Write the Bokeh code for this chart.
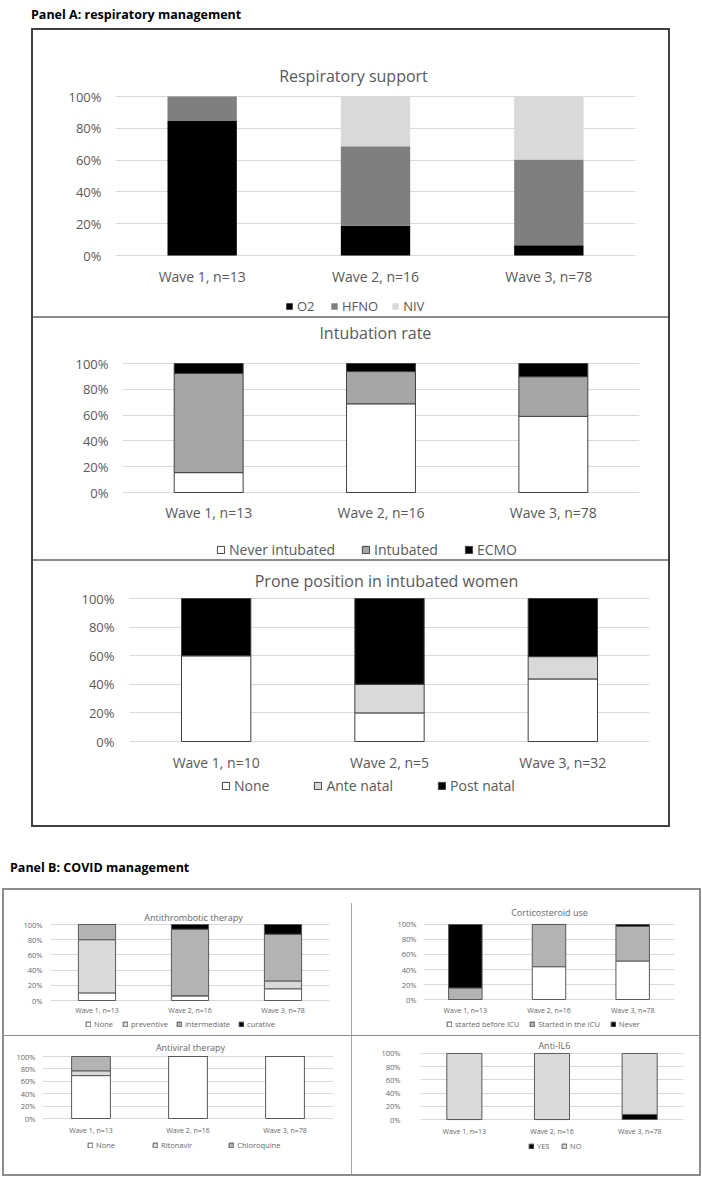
from bokeh.plotting import figure
from bokeh.models import (FactorRange, Range1d, FixedTicker, Legend, LegendItem,
                          Div, Spacer, ColumnDataSource, NumeralTickFormatter, Title)
from bokeh.layouts import column, row
from bokeh.embed import file_html
from bokeh.resources import INLINE

# ---------------- data ----------------
waves = ["Wave 1, n=13", "Wave 2, n=16", "Wave 3, n=78"]
waves_prone = ["Wave 1, n=10", "Wave 2, n=5", "Wave 3, n=32"]
pct_ticks = [0, 0.2, 0.4, 0.6, 0.8, 1.0]

resp_labels = ["O2", "HFNO", "NIV"]
resp_o2 = [84.6, 18.75, 6.4]
resp_hfno = [15.4, 50.0, 53.9]
resp_niv = [0.0, 31.25, 39.7]

intub_labels = ["Never intubated", "Intubated", "ECMO"]
intub_never = [15.4, 68.75, 59.0]
intub_yes = [76.9, 25.0, 30.8]
intub_ecmo = [7.7, 6.25, 10.2]

prone_labels = ["None", "Ante natal", "Post natal"]
prone_none = [60.0, 20.0, 43.75]
prone_ante = [0.0, 20.0, 15.6]
prone_post = [40.0, 60.0, 40.65]

athr_labels = ["None", "preventive", "intermediate", "curative"]
athr_none = [10.0, 6.25, 15.4]
athr_prev = [70.0, 0.0, 10.3]
athr_inter = [20.0, 87.5, 61.5]
athr_cur = [0.0, 6.25, 12.8]

cort_labels = ["started before ICU", "Started in the ICU", "Never"]
cort_before = [0.0, 43.75, 51.3]
cort_icu = [15.4, 56.25, 46.1]
cort_never = [84.6, 0.0, 2.6]

antiv_labels = ["None", "Ritonavir", "Chloroquine"]
antiv_none = [69.2, 100.0, 100.0]
antiv_rito = [7.7, 0.0, 0.0]
antiv_chloro = [23.1, 0.0, 0.0]

il6_labels = ["YES", "NO"]
il6_yes = [0.0, 0.0, 7.7]
il6_no = [100.0, 100.0, 92.3]

# ---------------- helpers ----------------
FONT = "Open Sans"
CW = {' ': 0.26, 'a': 0.556, 'b': 0.613, 'c': 0.476, 'd': 0.613, 'e': 0.561, 'g': 0.548,
      'h': 0.614, 'i': 0.253, 'l': 0.253, 'm': 0.93, 'n': 0.614, 'o': 0.604, 'p': 0.613,
      'r': 0.408, 's': 0.477, 't': 0.353, 'u': 0.614, 'v': 0.5, 'w': 0.778, 'y': 0.502,
      'A': 0.633, 'C': 0.631, 'I': 0.3, 'L': 0.525, 'P': 0.59, 'R': 0.619, '-': 0.322, '6': 0.572}
LH = 1.36  # font-metric height factor


def text_w(s, fs):
    return sum(CW.get(c, 0.55) for c in s) * fs


def chart(title, factors, series, labels, fills, outline, box, band_top, frame, title_c,
          fs_title, cat_cy, fs_cat, ylab_right, fs_y, leg_left, leg_cy, fs_leg, glyph,
          spacing, leg_standoff, tcolor):
    x0, y0, W, Htot = box
    H = band_top - y0
    fl, fr, ftop, fbot = frame
    D = fbot - ftop
    L = fl - x0
    FW = fr - fl
    T = ftop - 1 - y0
    FH = D + 2
    B = H - T - FH
    R = W - L - FW
    pad = 1.0 / D
    p = figure(width=W, height=H, x_range=FactorRange(*factors),
               y_range=Range1d(-pad, 1 + pad), output_backend="svg",
               toolbar_location=None, min_border_left=L, min_border_right=R,
               min_border_top=T, min_border_bottom=B, margin=0)
    p.frame_align = False
    p.outline_line_color = None
    p.background_fill_color = "white"
    p.border_fill_color = "white"

    data = {"x": list(factors)}
    keys = []
    for i, s in enumerate(series):
        k = "s%d" % i
        data[k] = [v / 100.0 for v in s]
        keys.append(k)
    src = ColumnDataSource(data)
    lw = 1 if outline else 0
    p.vbar_stack(keys, x="x", width=0.4, source=src, fill_color=fills,
                 line_color=outline, line_width=lw)

    # grid
    p.xgrid.visible = False
    p.ygrid.ticker = FixedTicker(ticks=pct_ticks)
    p.ygrid.grid_line_color = "#d9d9d9"
    p.ygrid.grid_line_width = 1

    # y axis
    ya = p.yaxis[0]
    ya.ticker = FixedTicker(ticks=pct_ticks)
    ya.formatter = NumeralTickFormatter(format="0%")
    ya.axis_line_color = None
    ya.major_tick_line_color = None
    ya.minor_tick_line_color = None
    ya.major_tick_out = 0
    ya.major_tick_in = 0
    ya.major_label_standoff = int(round(fl - ylab_right))
    ya.major_label_text_font = FONT
    ya.major_label_text_font_size = "%gpx" % fs_y
    ya.major_label_text_color = tcolor

    # x axis
    xa = p.xaxis[0]
    xa.axis_line_color = None
    xa.major_tick_line_color = None
    xa.minor_tick_line_color = None
    xa.major_tick_out = 0
    xa.major_tick_in = 0
    x_standoff = max(0, int(round(cat_cy - 0.72 * fs_cat - (fbot + 1))))
    xa.major_label_standoff = x_standoff
    xa.major_label_text_font = FONT
    xa.major_label_text_font_size = "%gpx" % fs_cat
    xa.major_label_text_color = tcolor

    # title (stacked against the frame top)
    tcx, tcy = title_c
    text_h = LH * fs_title
    dist = (ftop - 1) - (tcy + 0.64 * fs_title)
    p.title.text = title
    p.title.align = "left"
    p.title.offset = tcx - text_w(title, fs_title) / 2 - fl
    p.title.text_font = FONT
    p.title.text_font_size = "%gpx" % fs_title
    p.title.text_font_style = "normal"
    p.title.text_color = tcolor
    if 2 * dist + text_h <= T + 3:
        p.title.standoff = max(0, int(round(min(2 * dist, T - text_h))))
    else:
        sp_stand = max(0, int(round(T - 1.2 * LH * fs_title - 1.5)))
        p.add_layout(Title(text=" ", text_font_size="1px", standoff=sp_stand,
                           text_color="white"), "above")
        p.title.standoff = 0

    # legend strip (own small canvas under the chart)
    HB = y0 + Htot - band_top
    q = figure(width=W, height=HB, x_range=Range1d(0, 1), y_range=Range1d(0, 1),
               output_backend="svg", toolbar_location=None, min_border=0, margin=0,
               x_axis_type=None, y_axis_type=None, title_location=None)
    q.frame_align = False
    q.outline_line_color = None
    q.xgrid.visible = False
    q.ygrid.visible = False
    items = []
    for lab, fc in zip(labels, fills):
        # key swatch only: a zero-size bar placed outside the visible range
        r = q.vbar(x=[-5.0], top=[0.0], bottom=[0.0], width=0.0, fill_color=fc,
                   line_color=outline, line_width=lw)
        items.append(LegendItem(label=lab, renderers=[r]))
    h_item = max(glyph, LH * fs_leg)
    leg_bottom = leg_cy + h_item / 2
    leg = Legend(items=items, orientation="horizontal",
                 location=(leg_left - x0, (y0 + Htot) - leg_bottom),
                 padding=0, margin=0, spacing=spacing, label_standoff=leg_standoff,
                 glyph_width=glyph, glyph_height=glyph, label_height=glyph,
                 border_line_alpha=0, background_fill_alpha=0,
                 label_text_font=FONT, label_text_font_size="%gpx" % fs_leg,
                 label_text_color=tcolor)
    q.add_layout(leg)
    return column(p, q, spacing=0, margin=0)


def bar_line(w, h, color):
    return Div(text="", width=w, height=h, margin=0,
               styles={"background-color": color})


A_TXT = "#595959"
B_TXT = "#666666"
A_OUT = "#404040"
B_OUT = "#595959"

# ---------------- Panel A ----------------
fig1 = chart("Respiratory support", waves, [resp_o2, resp_hfno, resp_niv], resp_labels,
             ["#000000", "#7f7f7f", "#d9d9d9"], None,
             (33, 30, 635, 286), 293, (115, 635, 96, 255), (353, 76), 16,
             276, 14, 101, 13, 285, 306, 13, 8, 13, 4, A_TXT)
fig2 = chart("Intubation rate", waves, [intub_never, intub_yes, intub_ecmo], intub_labels,
             ["#ffffff", "#a6a6a6", "#000000"], A_OUT,
             (33, 318, 635, 241), 537, (122, 639, 363, 492), (375, 328), 16,
             512, 14, 108, 13, 216, 549, 14, 9, 26, 4, A_TXT)
fig3 = chart("Prone position in intubated women", waves_prone,
             [prone_none, prone_ante, prone_post], prone_labels,
             ["#ffffff", "#d9d9d9", "#000000"], A_OUT,
             (33, 561, 635, 264), 775, (129, 649, 598, 741), (386, 581), 16,
             762, 14, 114, 13, 221, 785, 14, 9, 44, 4, A_TXT)

# ---------------- Panel B ----------------
figLT = chart("Antithrombotic therapy", waves, [athr_none, athr_prev, athr_inter, athr_cur],
              athr_labels, ["#ffffff", "#d9d9d9", "#b3b3b3", "#000000"], B_OUT,
              (4, 890, 347, 145), 1017, (50, 329, 924, 1000), (193, 917), 9,
              1010, 7, 42, 7.5, 85, 1024, 7.5, 6, 8, 3, B_TXT)
figRT = chart("Corticosteroid use", waves, [cort_before, cort_icu, cort_never],
              cort_labels, ["#ffffff", "#b3b3b3", "#000000"], B_OUT,
              (352, 890, 347, 145), 1017, (423, 674, 924, 1001), (549, 912), 9,
              1012, 7, 416, 7.5, 446, 1024, 7.5, 6, 10, 3, B_TXT)
figLB = chart("Antiviral therapy", waves, [antiv_none, antiv_rito, antiv_chloro],
              antiv_labels, ["#ffffff", "#d9d9d9", "#b3b3b3"], B_OUT,
              (4, 1036, 347, 138), 1137, (42, 333, 1056, 1118), (190, 1047), 9,
              1130, 7, 35, 7.5, 87, 1145, 7.5, 6, 36, 3, B_TXT)
figRB = chart("Anti-IL6", waves, [il6_yes, il6_no], il6_labels,
              ["#000000", "#d9d9d9"], B_OUT,
              (352, 1036, 347, 138), 1138, (420, 683, 1050, 1120), (554, 1042), 9,
              1132, 7, 400, 7.5, 528, 1146, 7.5, 6, 4, 3, B_TXT)

# ---------------- layout ----------------
divA = Div(text='<div style="padding-left:31px;padding-top:8px;font-family:\'Open Sans\';'
                'font-weight:bold;font-size:12.5px;line-height:14px;color:#000;'
                'white-space:nowrap;">Panel A: respiratory management</div>',
           width=702, height=28, margin=0)
divB = Div(text='<div style="padding-left:10px;padding-top:34px;font-family:\'Open Sans\';'
                'font-weight:bold;font-size:12.5px;line-height:14px;color:#000;'
                'white-space:nowrap;">Panel B: COVID management</div>',
           width=702, height=61, margin=0)

A_BORDER = "#404040"
A_SEP = "#8c8c8c"
boxA = row(Spacer(width=31, height=799, margin=0),
           bar_line(2, 799, A_BORDER),
           column(bar_line(635, 2, A_BORDER), fig1, bar_line(635, 2, A_SEP), fig2,
                  bar_line(635, 2, A_SEP), fig3, bar_line(635, 2, A_BORDER),
                  spacing=0, margin=0),
           bar_line(2, 799, A_BORDER), spacing=0, margin=0)

B_BORDER = "#8c8c8c"
B_SEP = "#8c8c8c"
B_DIV = "#a6a6a6"
top_row = row(figLT, column(Spacer(width=1, height=13, margin=0), bar_line(1, 132, B_DIV),
                            spacing=0, margin=0),
              figRT, spacing=0, margin=0)
bot_row = row(figLB, bar_line(1, 138, B_DIV), figRB, spacing=0, margin=0)
boxB = row(Spacer(width=2, height=288, margin=0),
           bar_line(2, 288, B_BORDER),
           column(bar_line(695, 2, B_BORDER), top_row, bar_line(695, 1, B_SEP), bot_row,
                  bar_line(695, 2, B_BORDER), spacing=0, margin=0),
           bar_line(2, 288, B_BORDER), spacing=0, margin=0)

page = column(divA, boxA, divB, boxB, spacing=0, margin=0)

open("out.html", "w").write(file_html(page, INLINE))
